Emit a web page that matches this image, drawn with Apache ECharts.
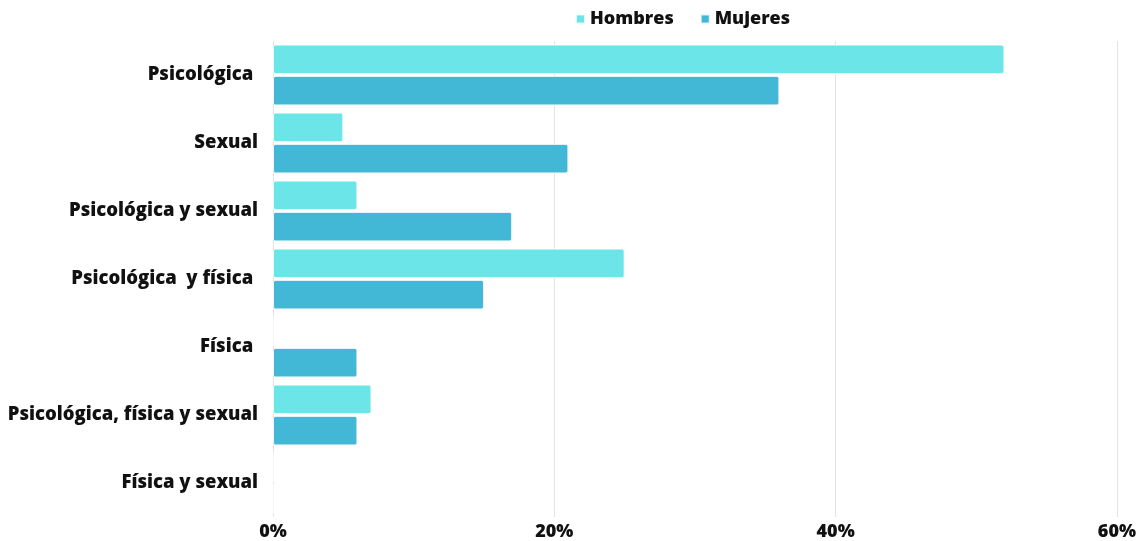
<!DOCTYPE html>
<html>
<head>
<meta charset="utf-8">
<script src="https://cdn.jsdelivr.net/npm/echarts@6/dist/echarts.min.js"></script>
<style>
  html, body { margin: 0; padding: 0; background: #fff; }
  #chart { width: 1139px; height: 541px; }
</style>
</head>
<body>
<div id="chart"></div>
<script>
// Tipos de violencia, de arriba hacia abajo
const categories = [
  'Psicológica ',
  'Sexual',
  'Psicológica y sexual',
  'Psicológica  y física ',
  'Física ',
  'Psicológica, física y sexual',
  'Física y sexual'
];
// Porcentajes por sexo
const hombres = [52, 5, 6, 25, 0, 7, 0];
const mujeres = [36, 21, 17, 15, 6, 6, 0];
const seriesNames = ['Hombres', 'Mujeres'];
const xTicks = [0, 20, 40, 60];

const font = '"Open Sans", "Noto Sans", sans-serif';
const chart = echarts.init(document.getElementById('chart'), null, { renderer: 'canvas' });

const barStyle = (color) => ({
  color: color,
  borderColor: 'rgba(255,255,255,0.8)',
  borderWidth: 1,
  borderRadius: 2
});

const labelText = {
  fontFamily: font,
  fontWeight: 800,
  fontSize: 18,
  color: '#111'
};

chart.setOption({
  animation: false,
  textStyle: { fontFamily: font },
  legend: {
    top: 5,
    left: 570,
    itemWidth: 9,
    itemHeight: 9,
    itemGap: 26,
    icon: 'rect',
    textStyle: Object.assign({}, labelText),
    data: seriesNames
  },
  grid: { left: 273, right: 22, top: 41, bottom: 24, containLabel: false },
  xAxis: {
    type: 'value',
    min: xTicks[0],
    max: xTicks[xTicks.length - 1],
    interval: 20,
    axisLine: { show: false },
    axisTick: { show: false },
    splitLine: { show: true, lineStyle: { color: '#e3e3e3', width: 1 } },
    axisLabel: Object.assign({ margin: 6, formatter: '{value}%' }, labelText)
  },
  yAxis: {
    type: 'category',
    inverse: true,
    data: categories,
    axisLine: { show: false },
    axisTick: { show: false },
    axisLabel: Object.assign({}, labelText, { margin: 15, fontSize: 18.5 })
  },
  series: [
    {
      name: seriesNames[0],
      type: 'bar',
      data: hombres,
      barWidth: 29.5,
      barGap: '6%',
      itemStyle: barStyle('#6ce5e8')
    },
    {
      name: seriesNames[1],
      type: 'bar',
      data: mujeres,
      barWidth: 29.5,
      itemStyle: barStyle('#42b7d6')
    }
  ]
});
</script>
</body>
</html>
